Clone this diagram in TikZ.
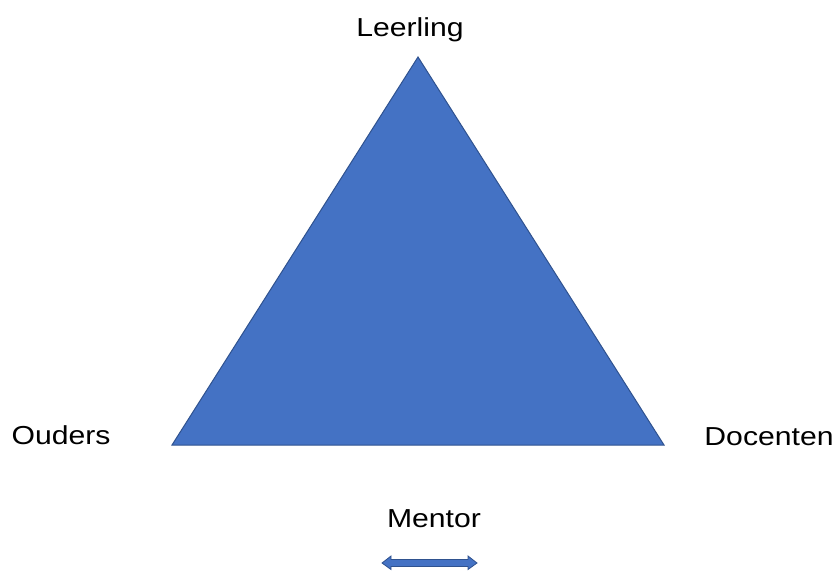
\documentclass[tikz,border=0pt]{standalone}
\usepackage{fontspec}
\setmainfont[FakeStretch=1.16]{Liberation Sans}
\definecolor{triblue}{HTML}{4472C4}
\definecolor{triedge}{HTML}{2F528F}
\begin{document}
\begin{tikzpicture}[x=1pt,y=-1pt,
  lbl/.style={inner sep=0pt,font=\fontsize{26}{30}\selectfont},
  shape fill/.style={fill=triblue,draw=triedge,line width=1pt,line join=miter}]
\useasboundingbox (0,0) rectangle (837,570);
\coordinate (top) at (418,57);
\coordinate (bl) at (172,445);
\coordinate (br) at (664,445);
\fill[shape fill] (top) -- (br) -- (bl) -- cycle;
\node[lbl] (leerling) at (410,30) {Leerling};
\node[lbl] (ouders) at (61,435) {Ouders};
\node[lbl] (docenten) at (769,437) {Docenten};
\node[lbl] (mentor) at (434,519) {Mentor};
% double block arrow
\fill[shape fill,line width=0.8pt] (382,563) -- (391,556) -- (391,559.5) -- (468,559.5) -- (468,556)
  -- (477,563) -- (468,569.5) -- (468,566.5) -- (391,566.5) -- (391,569.5) -- cycle;
\end{tikzpicture}
\end{document}
